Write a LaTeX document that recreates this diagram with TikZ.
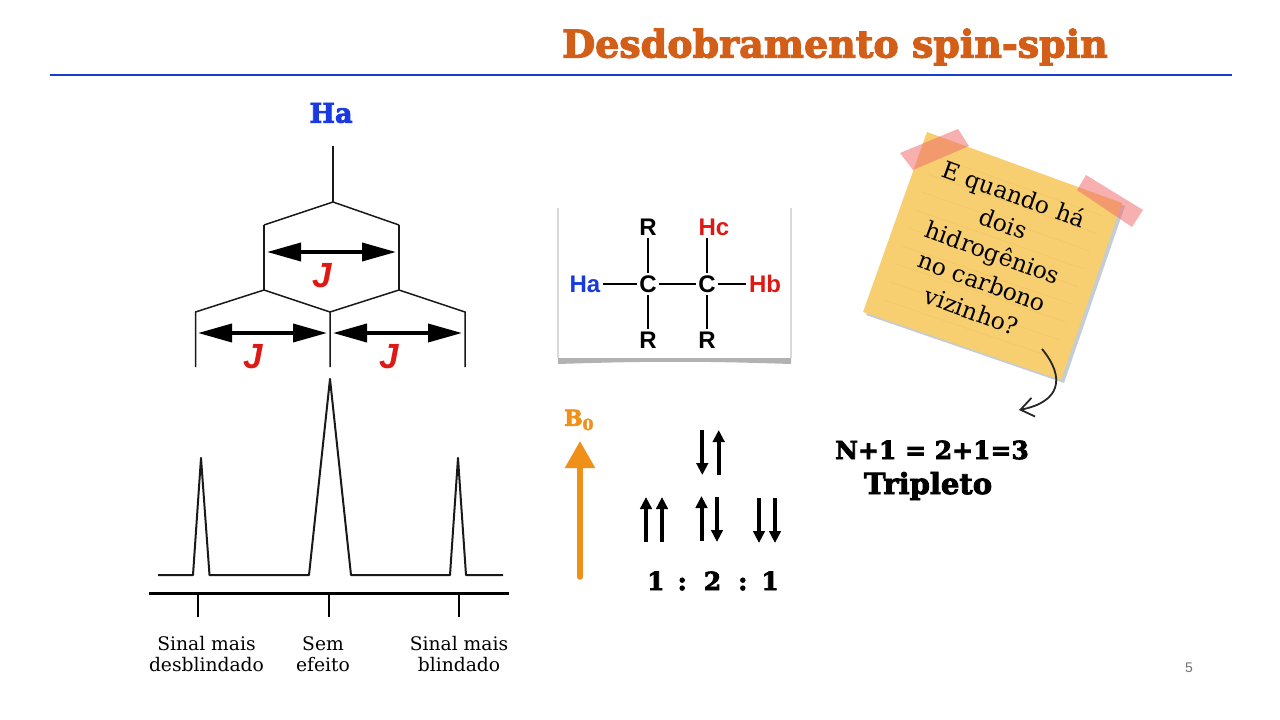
\documentclass[tikz,border=0pt]{standalone}
\usepackage{fontspec}
\usepackage{xcolor}
\usepackage{tikz}
\usetikzlibrary{arrows.meta, positioning, calc}
\setmainfont{DejaVu Serif}
\setsansfont{Liberation Sans}
\newfontfamily\heavyfont[FakeBold=3]{DejaVu Serif Bold}
\definecolor{titleorange}{RGB}{210, 94, 24}
\definecolor{rulerblue}{RGB}{24, 62, 208}
\definecolor{hablue}{RGB}{24, 58, 224}
\definecolor{hbred}{RGB}{222, 24, 20}
\definecolor{fieldorange}{RGB}{240, 144, 24}
\definecolor{notepaper}{RGB}{247, 207, 112}
\definecolor{noteline}{RGB}{241, 199, 104}
\definecolor{noteshadow}{RGB}{196, 204, 212}
\definecolor{tapepink}{RGB}{240, 110, 110}
\tikzstyle{split} = [line width=1.5pt, black!90]
\tikzstyle{jarrow} = [{Triangle[length=34pt, width=18pt]}-{Triangle[length=34pt, width=18pt]}, line width=3.8pt]
\tikzstyle{jlabel} = [text=hbred, font=\sffamily\bfseries\itshape\fontsize{35}{35}\selectfont]
\tikzstyle{peak} = [line width=2pt, black!90, line join=round]
\tikzstyle{tick} = [line width=2.4pt]
\tikzstyle{shiftlabel} = [align=center, font=\fontsize{18.7}{21.5}\selectfont]
\tikzstyle{atom} = [inner sep=2.5pt, font=\sffamily\bfseries\fontsize{24}{24}\selectfont]
\tikzstyle{bond} = [line width=2.6pt]
\tikzstyle{spin} = [-{Triangle[length=12pt, width=11.5pt]}, line width=4pt]
\tikzstyle{tape} = [fill=tapepink, fill opacity=0.55]
\begin{document}
\begin{tikzpicture}[x=1pt, y=-1pt]
    \useasboundingbox (0,0) rectangle (1280,720);

    % Title
    \node[text=titleorange, font=\heavyfont\fontsize{38}{38}\selectfont] (title) at (835,47) {Desdobramento spin-spin};
    \coordinate (ruleL) at (50,75);
    \coordinate (ruleR) at (1232,75);
    \draw[rulerblue, line width=2pt] (ruleL) -- (ruleR);

    % Splitting tree
    \node[text=hablue, font=\heavyfont\fontsize{27}{27}\selectfont] (ha) at (331,113) {Ha};
    \coordinate (top) at (333,146);
    \coordinate (apex) at (333,202);
    \coordinate (upL) at (264,225);
    \coordinate (upR) at (399,225);
    \coordinate (midL) at (264,290);
    \coordinate (midR) at (399,290);
    \coordinate (lowL) at (195.5,312);
    \coordinate (lowC) at (330,312);
    \coordinate (lowR) at (465,312);
    \coordinate (endL) at (195.5,367);
    \coordinate (endC) at (330,367);
    \coordinate (endR) at (465,367);
    \draw[split] (top) -- (apex);
    \draw[split] (upL) -- (apex) -- (upR);
    \draw[split] (upL) -- (midL);
    \draw[split] (upR) -- (midR);
    \draw[split] (endL) -- (lowL) -- (midL) -- (lowC) -- (endC);
    \draw[split] (lowC) -- (midR) -- (lowR) -- (endR);

    % Coupling arrows
    \coordinate (j1a) at (267,252);
    \coordinate (j1b) at (396,252);
    \coordinate (j2a) at (198,333);
    \coordinate (j2b) at (327,333);
    \coordinate (j3a) at (333,333);
    \coordinate (j3b) at (462,333);
    \draw[jarrow] (j1a) -- (j1b);
    \draw[jarrow] (j2a) -- (j2b);
    \draw[jarrow] (j3a) -- (j3b);
    \node[jlabel] (j1) at (322,276) {J};
    \node[jlabel] (j2) at (253,357) {J};
    \node[jlabel] (j3) at (389,357) {J};

    % Triplet
    \draw[peak] (158,575) -- (193,575) -- (201,458) -- (209.5,575) -- (309,575) -- (330,379) -- (351,575) -- (450,575) -- (458,458) -- (466,575) -- (503,575);
    \coordinate (axisL) at (149,593);
    \coordinate (axisR) at (509,593);
    \draw[line width=3pt] (axisL) -- (axisR);
    \draw[tick] (198,593) -- (198,617);
    \draw[tick] (329,593) -- (329,617);
    \draw[tick] (459,593) -- (459,617);
    \node[shiftlabel] (desb) at (206.5,654) {Sinal mais\\desblindado};
    \node[shiftlabel] (sem) at (323,654) {Sem\\efeito};
    \node[shiftlabel] (blind) at (459,654) {Sinal mais\\blindado};

    % Molecule card
    \fill[black!30] (558,352) -- (791,352) -- (791,364) .. controls (700,361) and (650,361) .. (558,364) -- cycle;
    \fill[white] (558,208) rectangle (791,358);
    \draw[black!15, line width=1.5pt] (558,358) -- (558,208);
    \draw[black!15, line width=1.5pt] (791,358) -- (791,208);
    \node[atom] (c1) at (648,284) {C};
    \node[atom] (c2) at (707,284) {C};
    \node[atom, text=hablue] (hab) at (585,284) {Ha};
    \node[atom, text=hbred] (hb) at (765,284) {Hb};
    \node[atom, text=hbred] (hc) at (714,227) {Hc};
    \node[atom] (r1) at (648,227) {R};
    \node[atom] (r2) at (648,340) {R};
    \node[atom] (r3) at (707,340) {R};
    \draw[bond] (hab) -- (c1);
    \draw[bond] (c1) -- (c2);
    \draw[bond] (c2) -- (hb);
    \draw[bond] (r1) -- (c1);
    \draw[bond] (c1) -- (r2);
    \draw[bond] (c2) -- (r3);
    \draw[bond] (c2.north) -- (c2.north |- hc.south);

    % Field arrow
    \node[text=fieldorange, font=\heavyfont\fontsize{22}{22}\selectfont] (b0) at (579,420) {B\textsubscript{0}};
    \coordinate (fieldA) at (580,577);
    \coordinate (fieldB) at (580,441);
    \draw[fieldorange, line width=5.5pt, line cap=round, -{Triangle[length=27pt, width=29pt]}] (fieldA) -- (fieldB);

    % Spin states
    \foreach \name/\xa/\ya/\yb in {a/702.3/430/475, b/718.7/475/430, c/646/542/497, d/662/542/497, e/701.5/541/496, f/717/497/542, g/759/498/543, h/775/498/543} {
        \coordinate (s\name) at (\xa,\ya);
        \coordinate (t\name) at (\xa,\yb);
        \draw[spin] (s\name) -- (t\name);
    }
    \node[font=\heavyfont\fontsize{25}{25}\selectfont] (ratio) at (713,581) {1\hspace{13pt}:\hspace{17pt}2\hspace{17pt}:\hspace{14pt}1};

    % Sticky note
    \coordinate (noteA) at (927,132);
    \coordinate (noteB) at (1122,203);
    \coordinate (noteC) at (1061,380);
    \coordinate (noteD) at (863,312);
    \fill[noteshadow] ($(noteA)+(3,3)$) -- ($(noteB)+(3,3)$) -- ($(noteC)+(3,3)$) -- ($(noteD)+(3,3)$) -- cycle;
    \fill[notepaper] (noteA) -- (noteB) -- (noteC) -- (noteD) -- cycle;
    \foreach \t in {0.1,0.2,...,0.95} {
        \draw[noteline, line width=0.6pt] ($(noteA)!\t!(noteD)+(14,6)$) -- ($(noteB)!\t!(noteC)+(-14,-5)$);
    }
    \fill[tape] (900,153) -- (958,129) -- (969,146) -- (913,170) -- cycle;
    \fill[tape] (1086,175) -- (1143,210) -- (1132,227) -- (1077,190) -- cycle;
    \node[rotate=-20, align=center, font=\fontsize{23.5}{31}\selectfont] (question) at (993,252) {E quando há\\dois\\hidrogênios\\no carbono\\vizinho?};

    % Curved pointer
    \coordinate (curveA) at (1042,349);
    \coordinate (curveB) at (1019,410);
    \draw[black!85, line width=1.8pt, -{Straight Barb[length=13pt, width=19pt]}] (curveA) .. controls (1066,378) and (1060,402) .. (curveB);

    % Result
    \node[font=\heavyfont\fontsize{25}{25}\selectfont] (result) at (932,450) {N+1 = 2+1=3};
    \node[font=\heavyfont\fontsize{29}{29}\selectfont] (tripleto) at (928,486) {Tripleto};

    % Page number
    \node[text=black!55, font=\sffamily\fontsize{14}{14}\selectfont] (page) at (1189,668) {5};
\end{tikzpicture}
\end{document}
